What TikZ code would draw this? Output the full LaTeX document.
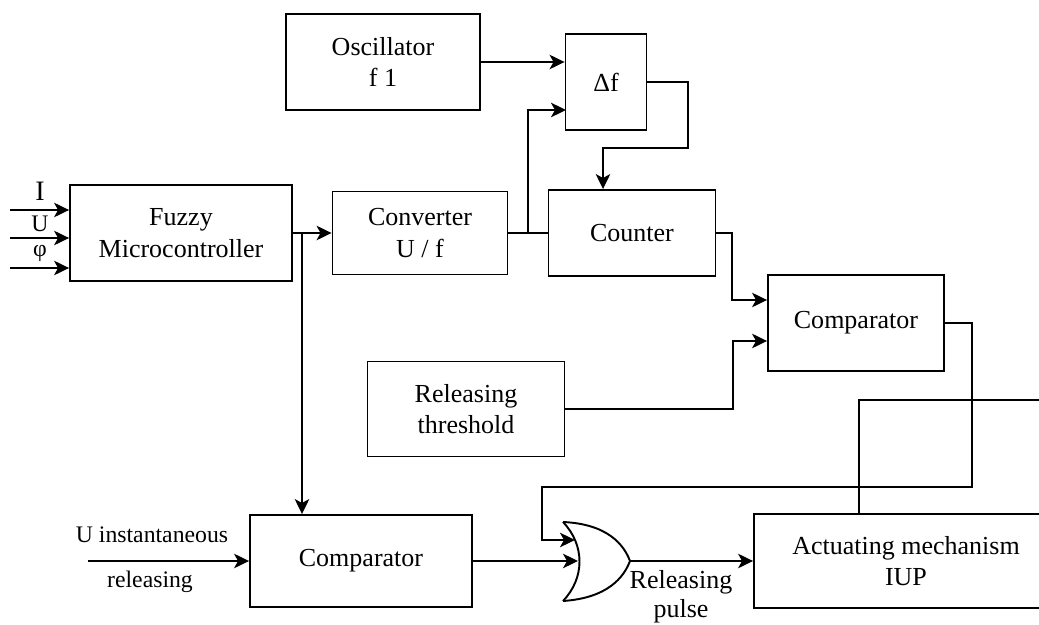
\documentclass[tikz,border=0pt]{standalone}
\usepackage{fontspec}
\setmainfont{Liberation Serif}
\usetikzlibrary{arrows.meta}

\begin{document}
\begin{tikzpicture}[
    x=0.02cm, y=-0.02cm,
    font=\fontsize{14.8}{18}\selectfont,
    line width=1.1pt,
    box/.style={draw, align=center, inner sep=2pt},
    arr/.style={-{Stealth[length=3mm, width=2.9mm, inset=0.8mm]}},
    lbl/.style={font=\fontsize{13.5}{16}\selectfont, inner sep=0pt}
  ]
    \useasboundingbox (0,0) rectangle (1039,625);
    \clip (0,0) rectangle (1039,625);

    \node[box, minimum width=3.88cm, minimum height=1.92cm] (osc) at (383,62)
      {Oscillator\\f 1};
    \node[box, minimum width=1.62cm, minimum height=1.92cm] (df) at (606,82)
      {Δf};
    \node[box, minimum width=4.44cm, minimum height=1.92cm] (fuzzy) at (181,233)
      {Fuzzy\\Microcontroller};
    \node[box, minimum width=3.5cm, minimum height=1.66cm] (conv) at (420,233)
      {Converter\\U / f};
    \node[box, minimum width=3.34cm, minimum height=1.72cm] (counter) at (632,233)
      {Counter};
    \node[box, minimum width=3.52cm, minimum height=1.92cm] (cmpA) at (856,323)
      {Comparator};
    \node[box, minimum width=3.94cm, minimum height=1.9cm] (thr) at (466,409)
      {Releasing\\threshold};
    \node[box, minimum width=4.44cm, minimum height=1.84cm] (cmpB) at (361,561)
      {Comparator};
    \node[box, minimum width=6.08cm, minimum height=1.88cm] (act) at (906,561)
      {Actuating mechanism\\IUP};

    % inputs of the fuzzy controller
    \coordinate (inI) at (10,210);
    \coordinate (inU) at (10,238);
    \coordinate (inF) at (10,268);
    \node[inner sep=0pt, font=\fontsize{16}{16}\selectfont] (lI) at (40,191) {I};
    \node[lbl] (lU) at (40,224) {U};
    \node[lbl] (lF) at (40,253) {φ};
    \draw[arr] (inI) -- (inI -| fuzzy.west);
    \draw[arr] (inU) -- (inU -| fuzzy.west);
    \draw[arr] (inF) -- (inF -| fuzzy.west);

    \coordinate (jA) at (302,233);
    \coordinate (jB) at (528,233);
    \coordinate (dfIn) at (566,110);
    \coordinate (dfTurn) at (688,148);
    \coordinate (fbTurn) at (542,487);
    \coordinate (orA) at (575,540);
    \coordinate (orB) at (578,561);
    \coordinate (orOut) at (630,561);
    \coordinate (uIn) at (88,561);
    \coordinate (offEdge) at (1045,400);

    \draw[arr] (fuzzy.east) -- (conv.west);
    \draw[arr] (jA) -- (jA |- cmpB.north);
    \draw (conv.east) -- (counter.west);
    \draw[arr] (jB) |- (dfIn);
    \draw[arr] (osc.east) -- (osc.east -| df.west);
    \draw[arr] (df.east) -| (dfTurn) -| ([xshift=-0.58cm]counter.north);
    \draw[arr] (counter.east) -- ++(16,0) |- ([yshift=0.46cm]cmpA.west);
    \draw[arr] (thr.east) -- ++(168,0) |- ([yshift=-0.36cm]cmpA.west);
    \draw[arr] (cmpA.east) -- ++(27,0) |- (fbTurn) |- (orA);
    \draw ([xshift=-0.94cm]act.north) |- (offEdge);

    % instantaneous release path
    \node[lbl] (uTop) at (152,535) {U instantaneous};
    \node[lbl] (uBot) at (150,582) {releasing};
    \draw[arr] (uIn) -- (cmpB.west);
    \draw[arr] (cmpB.east) -- (orB);

    % OR gate
    \draw (563,522) .. controls (608,524) and (624,545) .. (orOut)
      .. controls (624,577) and (608,598) .. (563,601);
    \draw (563,522) .. controls (585,545) and (585,578) .. (563,601);
    \draw[arr] (orOut) -- (act.west);
    \node[inner sep=0pt] (pTop) at (681,582) {Releasing};
    \node[inner sep=0pt] (pBot) at (681,611) {pulse};
  \end{tikzpicture}
\end{document}
